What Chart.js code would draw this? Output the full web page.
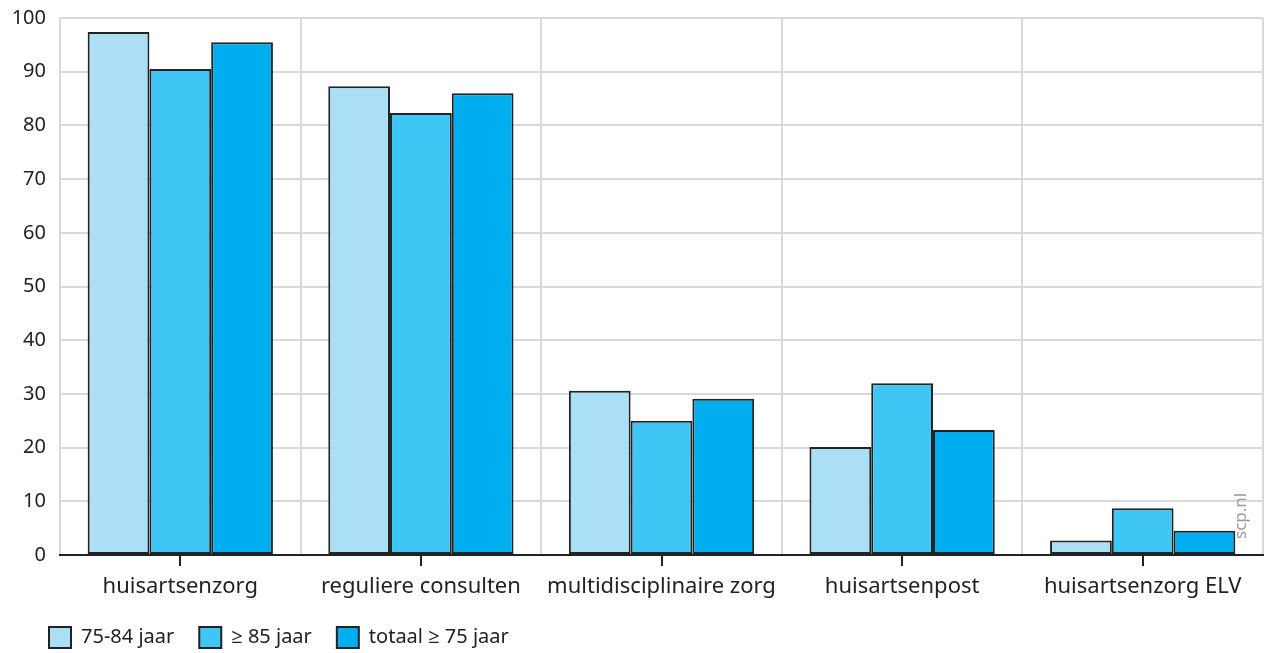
<!DOCTYPE html>
<html>
<head>
<meta charset="utf-8">
<script src="https://cdn.jsdelivr.net/npm/chart.js@4"></script>
<style>
  html, body { margin: 0; padding: 0; background: #fff; }
  #wrap { width: 1264px; height: 653px; }
</style>
</head>
<body>
<div id="wrap"><canvas id="chart"></canvas></div>
<script>
// data
var categories = ['huisartsenzorg', 'reguliere consulten', 'multidisciplinaire zorg', 'huisartsenpost', 'huisartsenzorg ELV'];
var leeftijd7584 = [97.4, 87.3, 30.6, 20.1, 2.7];
var leeftijd85 = [90.5, 82.3, 25.0, 32.0, 8.7];
var totaal75 = [95.5, 86.0, 29.1, 23.3, 4.5];
var seriesLabels = ['75-84 jaar', '\u2265 85 jaar', 'totaal \u2265 75 jaar'];
var colors = ['#aadff6', '#40c6f4', '#00adee'];

var fontFamily = '"Noto Sans", "Open Sans", sans-serif';

// tick marks at category centres, watermark, legend shifted right
var extras = {
  id: 'extras',
  afterLayout: function(chart) {
    chart.legend.left += 24;
  },
  afterDraw: function(chart) {
    var ctx = chart.ctx;
    var x = chart.scales.x;
    var bottom = chart.chartArea.bottom;
    ctx.save();
    ctx.strokeStyle = '#222';
    ctx.lineWidth = 2;
    for (var i = 0; i < categories.length; i++) {
      var px = Math.round(x.getPixelForValue(i));
      ctx.beginPath();
      ctx.moveTo(px, bottom);
      ctx.lineTo(px, bottom + 11);
      ctx.stroke();
    }
    ctx.translate(chart.chartArea.right - 22, bottom - 16);
    ctx.rotate(-Math.PI / 2);
    ctx.fillStyle = '#9a9a9a';
    ctx.font = '17px ' + fontFamily;
    ctx.textAlign = 'left';
    ctx.textBaseline = 'middle';
    ctx.fillText('scp.nl', 0, 0);
    ctx.restore();
  }
};

function ds(label, data, color) {
  return {
    label: label,
    data: data,
    backgroundColor: color,
    borderColor: '#222',
    borderWidth: 2,
    borderSkipped: false,
    barPercentage: 1.0,
    categoryPercentage: 0.77
  };
}

new Chart(document.getElementById('chart').getContext('2d'), {
  type: 'bar',
  data: {
    labels: categories,
    datasets: [
      ds(seriesLabels[0], leeftijd7584, colors[0]),
      ds(seriesLabels[1], leeftijd85, colors[1]),
      ds(seriesLabels[2], totaal75, colors[2])
    ]
  },
  options: {
    responsive: true,
    maintainAspectRatio: false,
    animation: false,
    layout: { padding: { top: 18, right: 1, left: 0, bottom: -5 } },
    scales: {
      x: {
        afterFit: function(scale) { scale.height = 47; },
        grid: { offset: true, color: '#d9d9d9', lineWidth: 2, drawTicks: false },
        border: { color: '#222', width: 2 },
        ticks: { color: '#222', font: { family: fontFamily, size: 22 }, padding: 19 }
      },
      y: {
        min: 0,
        max: 100,
        afterFit: function(scale) {
          scale.width = 60;
          scale.paddingTop = 0;
          scale.paddingBottom = 0;
        },
        ticks: { stepSize: 10, color: '#222', font: { family: fontFamily, size: 20 }, padding: 14 },
        grid: { color: '#d9d9d9', lineWidth: 2, drawTicks: false },
        border: { display: false }
      }
    },
    plugins: {
      legend: {
        position: 'bottom',
        align: 'start',
        labels: {
          color: '#222',
          font: { family: fontFamily, size: 20 },
          boxWidth: 22,
          boxHeight: 21,
          padding: 25,
          useBorderRadius: false
        }
      },
      tooltip: { enabled: false }
    }
  },
  plugins: [extras]
});
</script>
</body>
</html>
